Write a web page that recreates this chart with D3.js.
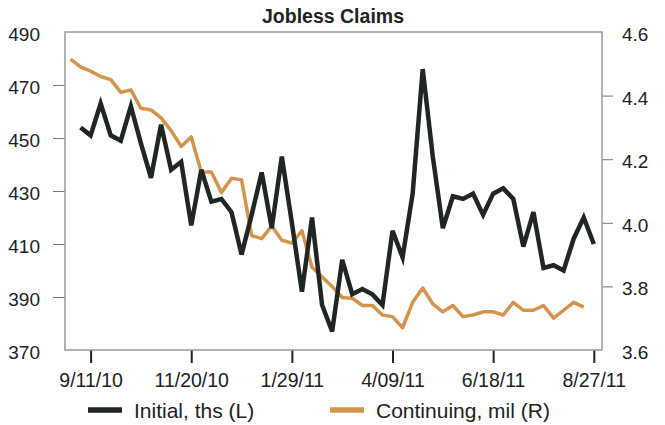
<!DOCTYPE html>
<html>
<head>
<meta charset="utf-8">
<script src="https://cdn.jsdelivr.net/npm/d3@7"></script>
<style>
  body { margin: 0; background: #fff; }
  svg text { font-family: "Liberation Sans", Arial, sans-serif; fill: #222; }
</style>
</head>
<body>
<div id="chart"></div>
<script>
// weekly data
const initialStart = new Date(2010, 8, 4);      // first week of initial claims
const continuingStart = new Date(2010, 7, 28);  // continuing claims lag one week

const initialClaims = [
  454, 451, 463, 451, 449, 462, 448, 435, 455, 438,
  441, 417, 438, 426, 427, 422, 406, 421, 437, 416,
  443, 418, 392, 420, 387, 377, 404, 391, 393, 391,
  387, 415, 405, 429, 476, 443, 416, 428, 427, 429,
  421, 429, 431, 427, 409, 422, 401, 402, 400, 412,
  420, 410
];

const continuingClaims = [
  4.515, 4.49, 4.477, 4.46, 4.45, 4.41, 4.418, 4.36, 4.355, 4.33,
  4.29, 4.24, 4.27, 4.16, 4.16, 4.095, 4.14, 4.135, 3.96, 3.95,
  3.99, 3.945, 3.936, 3.975, 3.86, 3.83, 3.80, 3.765, 3.763, 3.74,
  3.74, 3.71, 3.705, 3.67, 3.75, 3.795, 3.745, 3.72, 3.74, 3.705,
  3.71, 3.72, 3.72, 3.71, 3.75, 3.725, 3.725, 3.74, 3.70, 3.725,
  3.75, 3.735
];

const xTickDates = [
  new Date(2010, 8, 11), new Date(2010, 10, 20), new Date(2011, 0, 29),
  new Date(2011, 3, 9), new Date(2011, 5, 18), new Date(2011, 7, 27)
];
const xTickLabels = ["9/11/10", "11/20/10", "1/29/11", "4/09/11", "6/18/11", "8/27/11"];
const leftTicks = [370, 390, 410, 430, 450, 470, 490];
const rightTicks = [3.6, 3.8, 4.0, 4.2, 4.4, 4.6];

const width = 665, height = 425;
const frame = { left: 65, right: 602, top: 32, bottom: 350 };

const svg = d3.select("#chart").append("svg")
  .attr("width", width)
  .attr("height", height);

const x = d3.scaleTime()
  .domain([xTickDates[0], xTickDates[xTickDates.length - 1]])
  .range([90.6, 593.8]);
const yLeft = d3.scaleLinear().domain([370, 490]).range([frame.bottom, frame.top]);
const yRight = d3.scaleLinear().domain([3.6, 4.6]).range([frame.bottom, frame.top]);

const initialData = initialClaims.map((v, i) => ({ date: d3.timeDay.offset(initialStart, 7 * i), value: v }));
const continuingData = continuingClaims.map((v, i) => ({ date: d3.timeDay.offset(continuingStart, 7 * i), value: v }));

// title
svg.append("text")
  .attr("x", 333)
  .attr("y", 23)
  .attr("text-anchor", "middle")
  .style("font-size", "19.5px")
  .style("font-weight", "bold")
  .text("Jobless Claims");

// left axis
const leftAxis = svg.append("g")
  .attr("transform", `translate(${frame.left},0)`)
  .call(d3.axisLeft(yLeft).tickValues(leftTicks).tickSize(12).tickPadding(12).tickFormat(d3.format("d")));
leftAxis.select(".domain").remove();
leftAxis.selectAll(".tick line").attr("stroke", "#777")
  .style("display", d => (d === 370 || d === 490) ? "none" : null);
leftAxis.selectAll(".tick text")
  .style("font-size", "19px").attr("dy", "0.45em").attr("x", -25);

// right axis
const rightAxis = svg.append("g")
  .attr("transform", `translate(${frame.right},0)`)
  .call(d3.axisRight(yRight).tickValues(rightTicks).tickSize(11).tickPadding(9).tickFormat(d3.format(".1f")));
rightAxis.select(".domain").remove();
rightAxis.selectAll(".tick line").attr("stroke", "#777")
  .style("display", d => (d === 3.6 || d === 4.6) ? "none" : null);
rightAxis.selectAll(".tick text")
  .style("font-size", "19px").attr("dy", "0.45em").attr("x", 20);

// bottom axis
const bottomAxis = svg.append("g")
  .attr("transform", `translate(0,${frame.bottom})`)
  .call(d3.axisBottom(x).tickValues(xTickDates).tickSize(13).tickPadding(10)
    .tickFormat((d, i) => xTickLabels[i]));
bottomAxis.select(".domain").remove();
bottomAxis.selectAll(".tick line").attr("stroke", "#222").attr("stroke-width", 2);
bottomAxis.selectAll(".tick text").style("font-size", "19.5px");

// frame
svg.append("rect")
  .attr("x", frame.left)
  .attr("y", frame.top)
  .attr("width", frame.right - frame.left)
  .attr("height", frame.bottom - frame.top)
  .attr("fill", "none")
  .attr("stroke", "#9a9a9a")
  .attr("stroke-width", 1.5);

// lines
const lineLeft = d3.line().x(d => x(d.date)).y(d => yLeft(d.value));
const lineRight = d3.line().x(d => x(d.date)).y(d => yRight(d.value));

svg.append("path")
  .datum(continuingData)
  .attr("fill", "none")
  .attr("stroke", "#d4954a")
  .attr("stroke-width", 3.5)
  .attr("stroke-linejoin", "round")
  .attr("d", lineRight);

svg.append("path")
  .datum(initialData)
  .attr("fill", "none")
  .attr("stroke", "#1f2624")
  .attr("stroke-width", 4.5)
  .attr("stroke-linejoin", "miter")
  .attr("d", lineLeft);

// legend
const legendItems = [
  { label: "Initial, ths (L)", color: "#1f2624", x: 88 },
  { label: "Continuing, mil (R)", color: "#d4954a", x: 330 }
];
const legend = svg.selectAll(".legend")
  .data(legendItems)
  .enter().append("g")
  .attr("class", "legend")
  .attr("transform", d => `translate(${d.x},410)`);
legend.append("line")
  .attr("x1", 0).attr("x2", 34)
  .attr("stroke", d => d.color)
  .attr("stroke-width", 5.5);
legend.append("text")
  .attr("x", 46)
  .attr("dy", "0.36em")
  .style("font-size", "21px")
  .text(d => d.label);
</script>
</body>
</html>
